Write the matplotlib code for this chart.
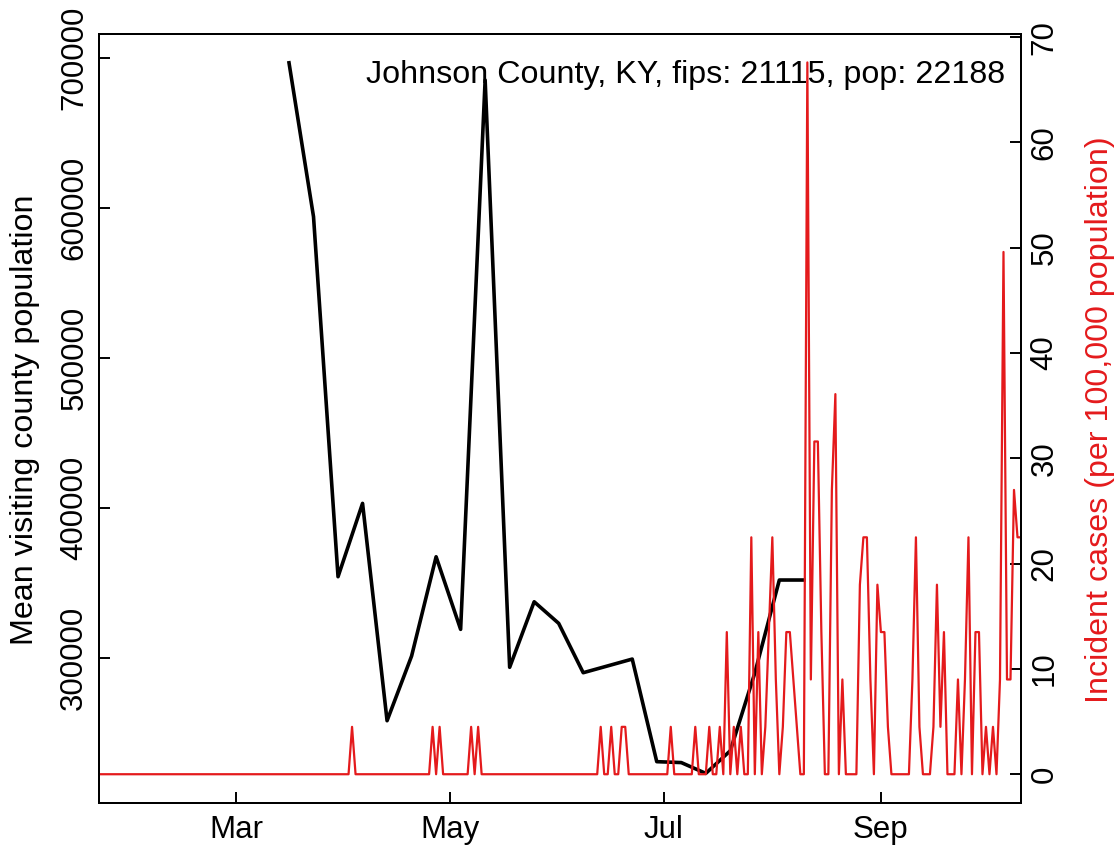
import matplotlib
matplotlib.use("Agg")
import matplotlib.pyplot as plt
import pandas as pd

plt.rcParams['font.family'] = ['Liberation Sans', 'DejaVu Sans']

# weekly mean visiting county population (black line)
week_dates = ["2020-03-16", "2020-03-23", "2020-03-30", "2020-04-06", "2020-04-13",
              "2020-04-20", "2020-04-27", "2020-05-04", "2020-05-11", "2020-05-18",
              "2020-05-25", "2020-06-01", "2020-06-08", "2020-06-22", "2020-06-29",
              "2020-07-06", "2020-07-13", "2020-07-20", "2020-07-27", "2020-08-03",
              "2020-08-10"]
mean_visiting = [697000, 594400, 354400, 403300, 258400,
                 301500, 367700, 319300, 685500, 294000,
                 337700, 323300, 290400, 299500, 231100,
                 230500, 223300, 238400, 290200, 352200,
                 352200]

# daily incident cases per 100k, only the days that are not zero
case_dates = ["2020-04-03", "2020-04-26", "2020-04-28", "2020-05-07", "2020-05-09",
              "2020-06-13", "2020-06-16", "2020-06-19", "2020-06-20", "2020-07-03",
              "2020-07-10", "2020-07-14", "2020-07-17", "2020-07-19", "2020-07-21",
              "2020-07-23", "2020-07-26", "2020-07-28", "2020-07-30", "2020-07-31",
              "2020-08-01", "2020-08-02", "2020-08-04", "2020-08-05", "2020-08-06",
              "2020-08-07", "2020-08-08", "2020-08-11", "2020-08-12", "2020-08-13",
              "2020-08-14", "2020-08-15", "2020-08-18", "2020-08-19", "2020-08-21",
              "2020-08-26", "2020-08-27", "2020-08-28", "2020-08-29", "2020-08-31",
              "2020-09-01", "2020-09-02", "2020-09-03", "2020-09-10", "2020-09-11",
              "2020-09-12", "2020-09-16", "2020-09-17", "2020-09-18", "2020-09-19",
              "2020-09-23", "2020-09-25", "2020-09-26", "2020-09-28", "2020-09-29",
              "2020-10-01", "2020-10-03", "2020-10-05", "2020-10-06", "2020-10-07",
              "2020-10-08", "2020-10-09", "2020-10-10", "2020-10-11"]
case_rates = [4.5, 4.5, 4.5, 4.5, 4.5,
              4.5, 4.5, 4.5, 4.5, 4.5,
              4.5, 4.5, 4.5, 13.5, 4.5,
              4.5, 22.5, 13.5, 4.5, 13.5,
              22.5, 9.0, 4.5, 13.5, 13.5,
              9.0, 4.5, 67.6, 9.0, 31.6,
              31.6, 13.5, 27.0, 36.1, 9.0,
              18.0, 22.5, 22.5, 9.0, 18.0,
              13.5, 13.5, 4.5, 9.0, 22.5,
              4.5, 4.5, 18.0, 4.5, 13.5,
              9.0, 9.0, 22.5, 13.5, 13.5,
              4.5, 4.5, 9.0, 49.6, 9.0,
              9.0, 27.0, 22.5, 22.5]

month_ticks = ["2020-03-01", "2020-05-01", "2020-07-01", "2020-09-01"]
month_labels = ["Mar", "May", "Jul", "Sep"]

days = pd.date_range("2020-01-22", "2020-10-11")
rates = pd.Series(0.0, index=days)
rates[pd.to_datetime(case_dates)] = case_rates

red = '#E41A1C'
fs = 22.5
fs_lab = 23.2

fig = plt.figure(figsize=(11.19, 8.51), dpi=100)
ax = fig.add_axes([99/1119, 1 - 802.7/851, 922/1119, 768.7/851])
ax.plot(pd.to_datetime(week_dates), mean_visiting, color='black', lw=2.6)
ax.set_xlim(pd.Timestamp("2020-01-21 18:00"), pd.Timestamp("2020-10-11"))
ax.set_ylim(203750, 716200)
yt = [300000, 400000, 500000, 600000, 700000]
ax.set_yticks(yt)
ax.set_yticklabels([str(v) for v in yt], rotation=90, va='center', ha='right')
ax.set_xticks(pd.to_datetime(month_ticks))
ax.set_xticklabels(month_labels)
ax.tick_params(axis='y', direction='in', length=8, width=1.4, labelsize=fs, pad=7)
ax.tick_params(axis='x', direction='in', length=8, width=1.4, labelsize=fs, pad=9)

ax2 = ax.twinx()
ax2.plot(rates.index, rates.values, color=red, lw=1.6)
ax2.set_ylim(-2.704, 70.3)
rt = list(range(0, 71, 10))
ax2.set_yticks(rt)
ax2.set_yticklabels([str(v) for v in rt], rotation=90, va='center', ha='left')
ax2.tick_params(axis='y', direction='in', length=8, width=1.4, labelsize=fs, pad=6)

for a in (ax, ax2):
    for s in a.spines.values():
        s.set_linewidth(1.4)

ax2.text(0.9826, 0.9467, "Johnson County, KY, fips: 21115, pop: 22188",
         transform=ax2.transAxes, ha='right', va='center', fontsize=fs_lab)

fig.text(25/1119, 1 - 420/851, "Mean visiting county population",
         rotation=90, ha='center', va='center', fontsize=fs_lab)
fig.text(1100/1119, 1 - 420/851, "Incident cases (per 100,000 population)",
         rotation=90, ha='center', va='center', fontsize=fs_lab, color=red)

fig.savefig("out.png", dpi=100)
